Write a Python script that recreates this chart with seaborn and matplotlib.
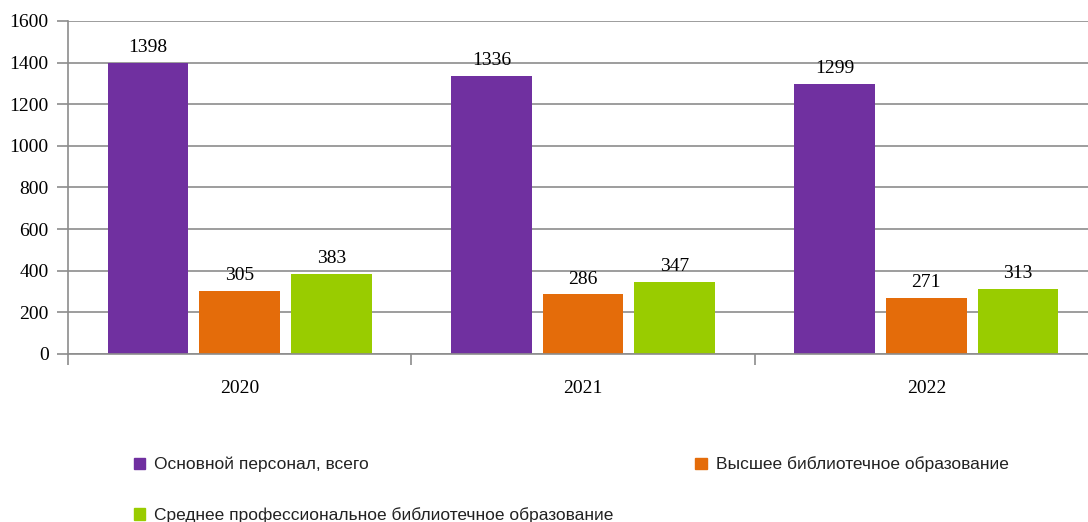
import matplotlib
matplotlib.use("Agg")
import matplotlib.pyplot as plt
import seaborn as sns
import pandas as pd
from matplotlib.patches import Patch

years = ["2020", "2021", "2022"]
series_names = [
    "Основной персонал, всего",
    "Высшее библиотечное образование",
    "Среднее профессиональное библиотечное образование",
]
staff_total = [1398, 1336, 1299]
higher_edu = [305, 286, 271]
secondary_edu = [383, 347, 313]
colors = ["#7030A0", "#E46C0A", "#99CC00"]

rows = []
for name, vals in zip(series_names, [staff_total, higher_edu, secondary_edu]):
    for y, v in zip(years, vals):
        rows.append({"Год": y, "Серия": name, "Значение": v})
df = pd.DataFrame(rows)

sns.set_theme(style="white")
plt.rcParams["font.family"] = ["Liberation Serif", "DejaVu Serif"]

fig = plt.figure(figsize=(10.88, 5.22), dpi=100)
ax = fig.add_axes([68 / 1088, 168 / 522, 1030 / 1088, 333 / 522])

sns.barplot(data=df, x="Год", y="Значение", hue="Серия", hue_order=series_names,
            palette=colors, width=0.8, gap=0.12, saturation=1, linewidth=0,
            ax=ax, legend=False)

for cont in ax.containers:
    ax.bar_label(cont, padding=5, fontsize=14, color="black")

ax.set_ylim(0, 1600)
ax.set_yticks(range(0, 1601, 200))
ax.set_xlim(-0.5, 2.5)
ax.set_xlabel("")
ax.set_ylabel("")
ax.grid(axis="y", color="#8c8c8c", linewidth=1.2)
ax.set_axisbelow(True)
for s in ["top", "right"]:
    ax.spines[s].set_visible(False)
for s in ["left", "bottom"]:
    ax.spines[s].set_color("#8c8c8c")
    ax.spines[s].set_linewidth(1.2)

ax.set_xticks([0, 1, 2])
ax.set_xticks([-0.5, 0.5, 1.5, 2.5], minor=True)
ax.tick_params(axis="x", which="major", length=0, pad=19, labelsize=14, labelcolor="black")
ax.tick_params(axis="x", which="minor", length=8, width=1.2, color="#8c8c8c", bottom=True)
ax.tick_params(axis="y", length=8, width=1.2, color="#8c8c8c", left=True,
               labelsize=14, pad=6, labelcolor="black")

handles = [Patch(color=c, label=n) for c, n in zip(colors, series_names)]
order = [0, 2, 1]
fig.legend([handles[i] for i in order], [series_names[i] for i in order],
           loc="upper left", bbox_to_anchor=(118 / 1088, 1 - 441 / 522), ncol=2,
           frameon=False, prop={"family": "Liberation Sans", "size": 12.5},
           labelcolor="#222222",
           handlelength=0.65, handleheight=0.65, handletextpad=0.55,
           labelspacing=2.0, columnspacing=4.7)

fig.savefig("out.png", dpi=100)
